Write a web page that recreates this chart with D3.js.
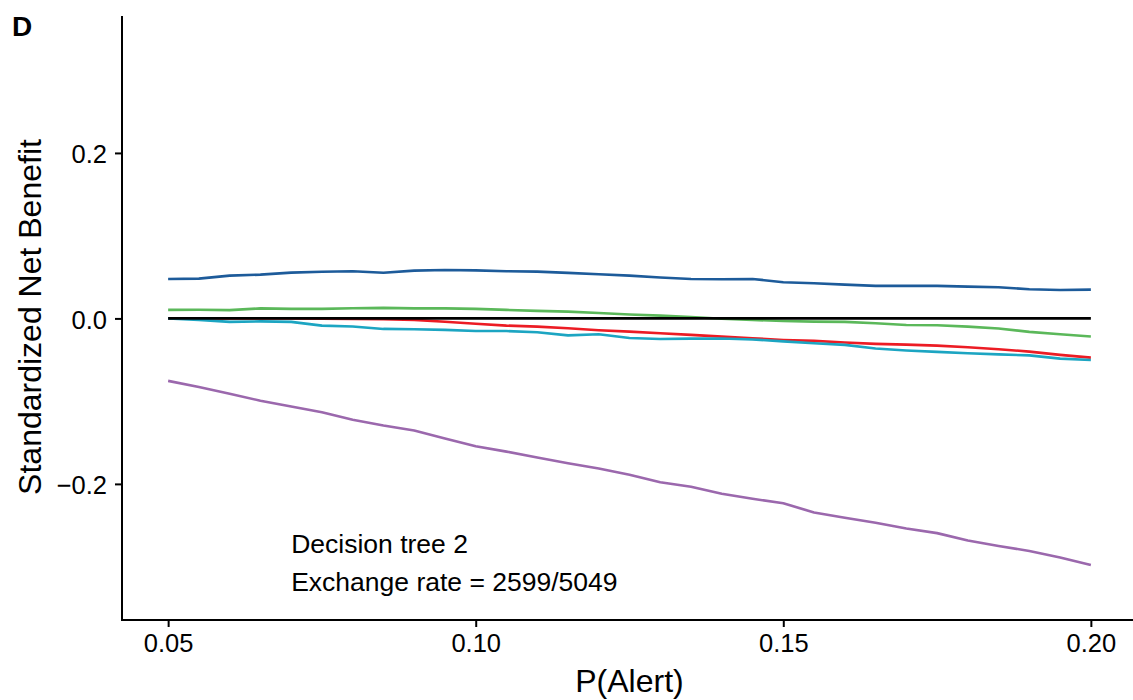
<!DOCTYPE html>
<html>
<head>
<meta charset="utf-8">
<script src="https://cdn.jsdelivr.net/npm/d3@7"></script>
<style>
  html, body { margin: 0; padding: 0; background: #fff; }
  svg { display: block; font-family: "Liberation Sans", Arial, Helvetica, sans-serif; }
</style>
</head>
<body>
<svg id="chart" width="1133" height="700"></svg>
<script>
// ---- data ----
const thresholds = [0.050,0.055,0.060,0.065,0.070,0.075,0.080,0.085,0.090,0.095,
                    0.100,0.105,0.110,0.115,0.120,0.125,0.130,0.135,0.140,0.145,
                    0.150,0.155,0.160,0.165,0.170,0.175,0.180,0.185,0.190,0.195,0.200];
const blueValues = [0.0477,0.0481,0.0517,0.0529,0.0553,0.0564,0.0570,0.0552,0.0578,0.0586,
                    0.0581,0.0570,0.0566,0.0550,0.0534,0.0517,0.0495,0.0477,0.0474,0.0477,
                    0.0437,0.0425,0.0408,0.0393,0.0393,0.0393,0.0384,0.0377,0.0353,0.0344,0.0348];
const greenValues = [0.0103,0.0105,0.0100,0.0121,0.0115,0.0115,0.0123,0.0127,0.0121,0.0121,
                     0.0115,0.0103,0.0091,0.0082,0.0066,0.0048,0.0034,0.0018,-0.0004,-0.0018,
                     -0.0032,-0.0039,-0.0042,-0.0058,-0.0079,-0.0082,-0.0099,-0.0121,-0.0163,-0.0191,-0.0218];
const redValues = [0.0000,0.0000,0.0001,0.0000,0.0000,-0.0004,-0.0005,-0.0008,-0.0018,-0.0040,
                   -0.0065,-0.0087,-0.0099,-0.0119,-0.0143,-0.0160,-0.0179,-0.0199,-0.0220,-0.0240,
                   -0.0260,-0.0272,-0.0292,-0.0308,-0.0317,-0.0329,-0.0348,-0.0372,-0.0401,-0.0441,-0.0474];
const tealValues = [0.0000,-0.0018,-0.0042,-0.0036,-0.0042,-0.0087,-0.0097,-0.0127,-0.0131,-0.0139,
                    -0.0153,-0.0153,-0.0167,-0.0205,-0.0191,-0.0236,-0.0248,-0.0244,-0.0242,-0.0254,
                    -0.0278,-0.0300,-0.0320,-0.0363,-0.0387,-0.0405,-0.0421,-0.0435,-0.0447,-0.0486,-0.0502];
const purpleValues = [-0.0755,-0.0830,-0.0910,-0.0995,-0.1065,-0.1135,-0.1225,-0.1295,-0.1355,-0.1450,
                      -0.1545,-0.1610,-0.1680,-0.1750,-0.1815,-0.1890,-0.1980,-0.2035,-0.2120,-0.2180,
                      -0.2235,-0.2345,-0.2410,-0.2470,-0.2540,-0.2595,-0.2685,-0.2750,-0.2810,-0.2890,-0.2980];
const referenceX = [0.05, 0.20];
const referenceValues = [0, 0];

const xTicks = [0.05, 0.10, 0.15, 0.20];
const xTickLabels = ["0.05", "0.10", "0.15", "0.20"];
const yTicks = [-0.2, 0.0, 0.2];
const yTickLabels = ["\u22120.2", "0.0", "0.2"];

const seriesNames = ["blue", "green", "red", "teal", "purple"];
const seriesColors = ["#1d5b9a", "#5bb85a", "#ec1c24", "#1ca5c2", "#9b68ad"];
const seriesValues = [blueValues, greenValues, redValues, tealValues, purpleValues];

const panelTag = "D";
const xTitle = "P(Alert)";
const yTitle = "Standardized Net Benefit";
const annotationLines = ["Decision tree 2", "Exchange rate = 2599/5049"];

// ---- chart ----
const svg = d3.select("#chart");
const x = d3.scaleLinear().domain([0.0425, 0.2075]).range([122, 1137]);
const y = d3.scaleLinear().domain([-0.3645, 0.3655]).range([620, 16]);

const line = d3.line().x(d => x(d[0])).y(d => y(d[1]));

const plot = svg.append("g");

seriesValues.forEach((vals, i) => {
  plot.append("path")
    .datum(thresholds.map((t, j) => [t, vals[j]]))
    .attr("fill", "none")
    .attr("stroke", seriesColors[i])
    .attr("stroke-width", 2.6)
    .attr("stroke-linejoin", "round")
    .attr("d", line);
});

plot.append("path")
  .datum(referenceX.map((t, j) => [t, referenceValues[j]]))
  .attr("fill", "none")
  .attr("stroke", "#000")
  .attr("stroke-width", 2.6)
  .attr("d", line);

// axes
const xAxis = d3.axisBottom(x).tickValues(xTicks)
  .tickFormat((d, i) => xTickLabels[i]).tickSizeInner(7).tickSizeOuter(0).tickPadding(6);
const gx = svg.append("g").attr("transform", "translate(0,620)").call(xAxis);
gx.select(".domain").attr("stroke", "#000").attr("stroke-width", 2).attr("d", "M122,0H1137");
gx.selectAll(".tick line").attr("stroke", "#000").attr("stroke-width", 2);
gx.selectAll(".tick text").attr("fill", "#000").attr("font-size", 25.5)
  .attr("font-family", "'Liberation Sans', Arial, sans-serif").attr("dy", "0.76em");

const yAxis = d3.axisLeft(y).tickValues(yTicks)
  .tickFormat((d, i) => yTickLabels[i]).tickSizeInner(7).tickSizeOuter(0).tickPadding(8);
const gy = svg.append("g").attr("transform", "translate(122,0)").call(yAxis);
gy.select(".domain").attr("stroke", "#000").attr("stroke-width", 2).attr("d", "M0,16V621");
gy.selectAll(".tick line").attr("stroke", "#000").attr("stroke-width", 2);
gy.selectAll(".tick text").attr("fill", "#000").attr("font-size", 25.5)
  .attr("font-family", "'Liberation Sans', Arial, sans-serif").attr("dy", "0.38em");

// titles
svg.append("text")
  .attr("x", (122 + 1137) / 2).attr("y", 692)
  .attr("text-anchor", "middle").attr("font-size", 32).attr("fill", "#000")
  .text(xTitle);

svg.append("text")
  .attr("transform", "translate(41,317) rotate(-90)")
  .attr("text-anchor", "middle").attr("font-size", 32).attr("fill", "#000")
  .text(yTitle);

svg.append("text")
  .attr("x", 12).attr("y", 36)
  .attr("font-size", 28).attr("font-weight", "bold").attr("fill", "#000")
  .text(panelTag);

// annotation
svg.append("g").selectAll("text").data(annotationLines).join("text")
  .attr("x", x(0.07))
  .attr("y", (d, i) => 553 + i * 38)
  .attr("font-size", 26.5).attr("fill", "#000")
  .text(d => d);
</script>
</body>
</html>
